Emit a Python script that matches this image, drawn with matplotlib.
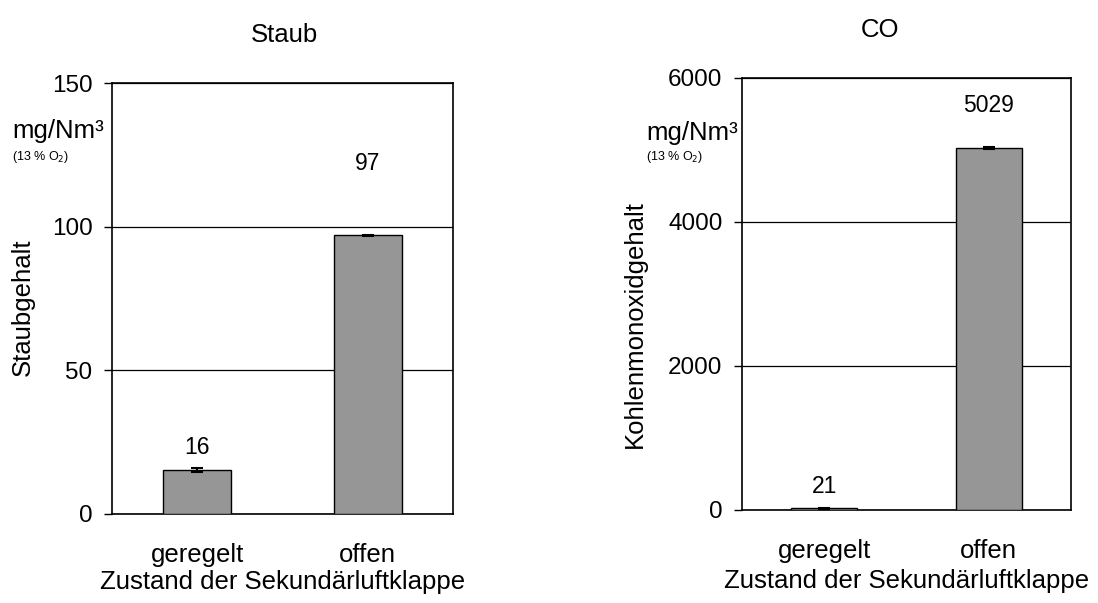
import matplotlib.pyplot as plt

plt.rcParams['font.family'] = ['Liberation Sans', 'DejaVu Sans']

# Daten
kategorien = ['geregelt', 'offen']
staub_werte = [15.3, 97]
staub_fehler = [0.6, 0.2]
staub_labels = ['16', '97']
staub_label_pos = [23, 122]

co_werte = [21, 5029]
co_fehler = [5, 10]
co_labels = ['21', '5029']
co_label_pos = [320, 5620]

W, H = 1098, 603
fig = plt.figure(figsize=(W / 100, H / 100), dpi=100)


def panel(rect, werte, fehler, labels, label_pos, ymax, yticks, ylabel):
    l, b, w, h = rect
    ax = fig.add_axes([l / W, (H - b) / H, w / W, h / H])
    x = range(len(kategorien))
    ax.bar(x, werte, width=0.4, color='#969696', edgecolor='black', linewidth=1, zorder=3)
    ax.errorbar(x, werte, yerr=fehler, fmt='none', ecolor='black', capsize=4,
                elinewidth=1.5, capthick=1.5, zorder=4)
    for xi, lab, yp in zip(x, labels, label_pos):
        ax.text(xi, yp, lab, ha='center', va='center', fontsize=16.5)
    ax.set_xlim(-0.5, 1.5)
    ax.set_ylim(0, ymax)
    ax.set_yticks(yticks)
    ax.set_xticks(list(x))
    ax.set_xticklabels(kategorien, fontsize=18.5)
    ax.tick_params(axis='x', length=0, pad=21)
    ax.tick_params(axis='y', length=6, width=1, direction='out', labelsize=17.5, pad=8)
    ax.yaxis.grid(True, color='black', linewidth=0.9, zorder=0)
    for s in ax.spines.values():
        s.set_color('black')
        s.set_linewidth(1.2)
    ax.set_xlabel('Zustand der Sekundärluftklappe', fontsize=18.5, va='center')
    ax.set_ylabel(ylabel, fontsize=18.5)
    return ax


ax1 = panel((112, 514, 341, 431), staub_werte, staub_fehler, staub_labels,
            staub_label_pos, 150, [0, 50, 100, 150], 'Staubgehalt')
ax1.yaxis.set_label_coords(-0.226, 0.48)
ax1.xaxis.set_label_coords(0.5, -0.158)

ax2 = panel((742, 510, 329, 432), co_werte, co_fehler, co_labels,
            co_label_pos, 6000, [0, 2000, 4000, 6000], 'Kohlenmonoxidgehalt')
ax2.yaxis.set_label_coords(-0.289, 0.43)
ax2.xaxis.set_label_coords(0.5, -0.164)

# Titel und Einheiten
fig.text(284 / W, 1 - 35 / H, 'Staub', ha='center', va='center', fontsize=18.5)
fig.text(880 / W, 1 - 30 / H, 'CO', ha='center', va='center', fontsize=18.5)
fig.text(12 / W, 1 - 131 / H, 'mg/Nm³', ha='left', va='center', fontsize=18.5)
fig.text(12 / W, 1 - 157 / H, '(13 % O$_2$)', ha='left', va='center', fontsize=9)
fig.text(646 / W, 1 - 133 / H, 'mg/Nm³', ha='left', va='center', fontsize=18.5)
fig.text(646 / W, 1 - 157 / H, '(13 % O$_2$)', ha='left', va='center', fontsize=9)

fig.savefig('out.png', dpi=100)
